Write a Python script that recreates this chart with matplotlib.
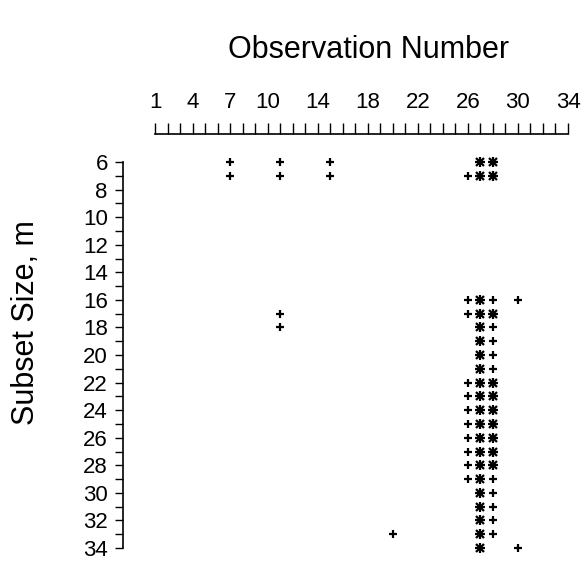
import matplotlib
matplotlib.use("Agg")
import matplotlib.pyplot as plt

# observations flagged with "+" : (observation number, subset size m)
plus_obs = [7, 11, 15,
            7, 11, 15, 26,
            26, 28, 30,
            11, 26,
            11, 28,
            28, 28, 28,
            26, 26, 26, 26, 26, 26, 26,
            26, 28,
            28, 28, 28, 28, 20,
            30]
plus_m = [6, 6, 6,
          7, 7, 7, 7,
          16, 16, 16,
          17, 17,
          18, 18,
          19, 20, 21,
          22, 23, 24, 25, 26, 27, 28,
          29, 29,
          30, 31, 32, 33, 33,
          34]

# observations flagged with asterisk
star_obs = [27, 28,
            27, 28,
            27,
            27, 28,
            27, 27, 27, 27,
            27, 28, 27, 28, 27, 28, 27, 28, 27, 28, 27, 28, 27, 28,
            27, 27, 27, 27, 27, 27]
star_m = [6, 6,
          7, 7,
          16,
          17, 17,
          18, 19, 20, 21,
          22, 22, 23, 23, 24, 24, 25, 25, 26, 26, 27, 27, 28, 28,
          29, 30, 31, 32, 33, 34]

x_labels = [1, 4, 7, 10, 14, 18, 22, 26, 30, 34]
y_labels = list(range(6, 35, 2))

plt.rcParams['font.family'] = ['Liberation Sans', 'DejaVu Sans']

fig = plt.figure(figsize=(5.83, 5.62), dpi=100)
ax = fig.add_axes([155 / 583, 14 / 562, 413 / 583, 386 / 562])

ax.plot(plus_obs, plus_m, linestyle='none', marker='+', color='black',
        markersize=6, markeredgewidth=1.6, clip_on=False)
# asterisk = "+" drawn over "x"
ax.plot(star_obs, star_m, linestyle='none', marker='+', color='black',
        markersize=6.5, markeredgewidth=1.6, clip_on=False)
ax.plot(star_obs, star_m, linestyle='none', marker='x', color='black',
        markersize=5.5, markeredgewidth=1.6, clip_on=False)

ax.set_xlim(1, 34)
ax.set_ylim(34, 6)

ax.xaxis.tick_top()
ax.xaxis.set_label_position('top')
ax.set_xticks(x_labels)
ax.set_xticks(range(1, 35), minor=True)
ax.set_yticks(y_labels)
ax.set_yticks(range(6, 35), minor=True)

ax.tick_params(axis='x', which='both', length=8, width=1, labelsize=16, pad=7)
ax.tick_params(axis='y', which='both', length=6, width=1, labelsize=16, pad=5)

for side in ['right', 'bottom']:
    ax.spines[side].set_visible(False)
ax.spines['top'].set_position(('outward', 20))
ax.spines['left'].set_position(('outward', 23))
ax.spines['top'].set_bounds(1, 34)
ax.spines['left'].set_bounds(6, 34)
ax.spines['top'].set_linewidth(1.2)
ax.spines['left'].set_linewidth(1.2)

ax.set_xlabel('Observation Number', fontsize=22)
ax.set_ylabel('Subset Size, m', fontsize=22)
ax.xaxis.set_label_coords(0.518, 1.27)
ax.yaxis.set_label_coords(-0.276, 0.585)

fig.savefig('out.png', dpi=100)
